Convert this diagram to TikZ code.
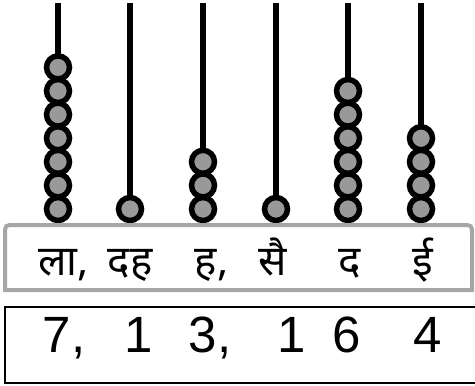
\documentclass[tikz,border=0pt]{standalone}
\usepackage{fontspec}
\setmainfont{Liberation Sans}
\newfontfamily\deva[Script=Devanagari]{Noto Sans}
\definecolor{beadgray}{HTML}{999999}
\definecolor{framegray}{HTML}{A6A6A6}
\begin{document}
\begin{tikzpicture}[x=1bp,y=-1bp,
  rod/.style={line width=5.5bp,draw=black},
  bead/.style={circle,draw=black,fill=beadgray,line width=5.5bp,minimum size=23bp,inner sep=0pt},
  framestyle/.style={draw=framegray,line width=4bp},
  boxstyle/.style={draw=black,line width=2bp},
  devalabel/.style={anchor=base,inner sep=0pt,font=\deva\fontsize{42bp}{48bp}\selectfont},
  digit/.style={anchor=base,inner sep=0pt,font=\fontsize{51bp}{60bp}\selectfont}]
\useasboundingbox (0,0) rectangle (475,385);
\clip (0,0) rectangle (475,385);
% rods and beads
\foreach \i/\x/\n in {1/58/7,2/130/1,3/203/3,4/276/1,5/348/6,6/421/4}{
  \coordinate (top\i) at (\x,3);
  \coordinate (base\i) at (\x,209);
  \draw[rod] (top\i) -- (base\i);
  \foreach \k in {1,...,\n}{
    \node[bead] (b\i-\k) at (\x,{209-(\k-1)*23.6}) {};
  }
}
% frame
\draw[framestyle] (5,290) -- (5,235) .. controls (5,225) .. (15,225) -- (462,225) .. controls (472,225) .. (472,235) -- (472,290) -- cycle;
% labels
\node[devalabel] (l1) at (58,275) {ला\rlap{,}};
\node[devalabel] (l2) at (130,275) {दह};
\node[devalabel] (l3) at (206,275) {ह\rlap{,}};
\node[devalabel] (l4) at (273,275) {सै};
\node[devalabel] (l5) at (350,275) {द};
\node[devalabel] (l6) at (423,275) {ई};
% number box
\draw[boxstyle] (5,307) rectangle (485,383);
\node[digit] (d1) at (57,352) {7\rlap{,}};
\node[digit] (d2) at (139,352) {1};
\node[digit] (d3) at (203,352) {3\rlap{,}};
\node[digit] (d4) at (292,352) {1};
\node[digit] (d5) at (347,352) {6};
\node[digit] (d6) at (428,352) {4};
\end{tikzpicture}
\end{document}
